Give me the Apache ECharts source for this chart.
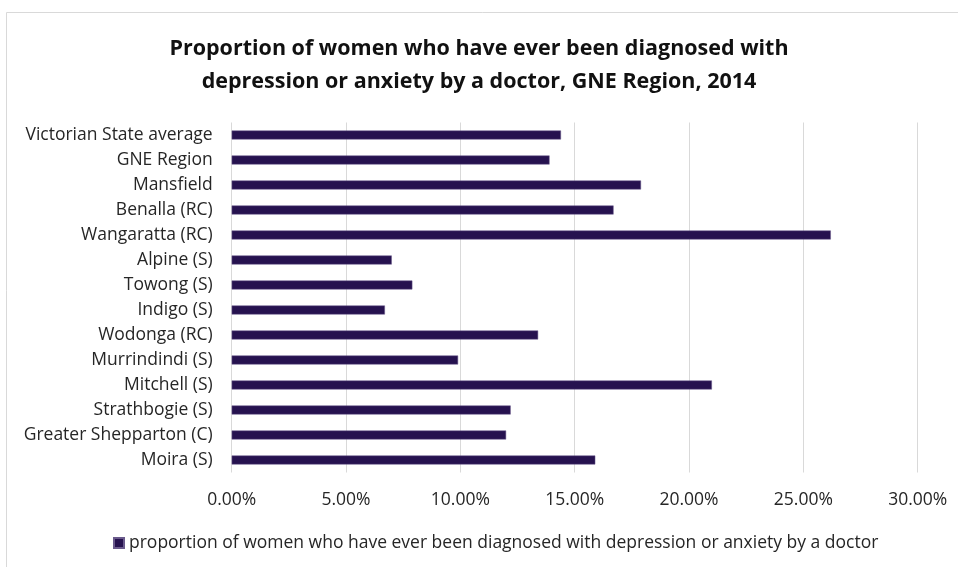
<!DOCTYPE html>
<html>
<head>
<meta charset="utf-8">
<script src="https://cdn.jsdelivr.net/npm/echarts@6/dist/echarts.min.js"></script>
<style>
  html, body { margin: 0; padding: 0; background: #ffffff; }
  #chart { width: 958px; height: 567px; }
</style>
</head>
<body>
<div id="chart"></div>
<script>
// Regions, listed top to bottom as they appear on the chart
const regions = [
  'Victorian State average',
  'GNE Region',
  'Mansfield',
  'Benalla (RC)',
  'Wangaratta (RC)',
  'Alpine (S)',
  'Towong (S)',
  'Indigo (S)',
  'Wodonga (RC)',
  'Murrindindi (S)',
  'Mitchell (S)',
  'Strathbogie (S)',
  'Greater Shepparton (C)',
  'Moira (S)'
];

// Proportion (%) of women ever diagnosed with depression or anxiety by a doctor
const proportions = [14.4, 13.9, 17.9, 16.7, 26.2, 7.0, 7.9, 6.7, 13.4, 9.9, 21.0, 12.2, 12.0, 15.9];

const seriesName = 'proportion of women who have ever been diagnosed with depression or anxiety by a doctor';
const titleText = 'Proportion of women who have ever been diagnosed with\ndepression or anxiety by a doctor, GNE Region, 2014';

const barColor = '#26124f';
const textFont = '"Open Sans", "Liberation Sans", Arial, sans-serif';

const chart = echarts.init(document.getElementById('chart'), null, { renderer: 'canvas' });

chart.setOption({
  backgroundColor: '#ffffff',
  animation: false,
  textStyle: { fontFamily: textFont },
  graphic: [{
    type: 'rect',
    shape: { x: 6.5, y: 12.5, width: 1000, height: 600 },
    style: { fill: 'none', stroke: '#d9d9d9', lineWidth: 1 },
    silent: true
  }],
  title: {
    text: titleText,
    left: 'center',
    top: 27,
    textStyle: {
      fontFamily: textFont,
      fontSize: 21.5,
      fontWeight: 'bold',
      color: '#111111',
      lineHeight: 33
    }
  },
  grid: {
    left: 231.7,
    right: 40.3,
    top: 122.5,
    height: 350,
    containLabel: false
  },
  xAxis: {
    type: 'value',
    min: 0,
    max: 30,
    interval: 5,
    axisLine: { show: false },
    axisTick: { show: false },
    splitLine: { show: true, lineStyle: { color: '#d9d9d9', width: 1 } },
    axisLabel: {
      color: '#262626',
      fontSize: 17.5,
      margin: 19,
      formatter: v => v.toFixed(2) + '%'
    }
  },
  yAxis: {
    type: 'category',
    data: regions,
    inverse: true,
    axisLine: { show: false },
    axisTick: { show: false },
    splitLine: { show: false },
    axisLabel: {
      color: '#262626',
      fontSize: 17.5,
      margin: 19
    }
  },
  legend: {
    data: [seriesName],
    bottom: 10,
    left: 108,
    icon: 'rect',
    itemWidth: 10,
    itemHeight: 10,
    itemGap: 6,
    textStyle: { color: '#262626', fontSize: 17.5 }
  },
  series: [{
    name: seriesName,
    type: 'bar',
    data: proportions,
    barWidth: 9,
    itemStyle: {
      color: barColor,
      borderColor: '#6a5a8c',
      borderWidth: 0.5
    }
  }]
});
</script>
</body>
</html>
